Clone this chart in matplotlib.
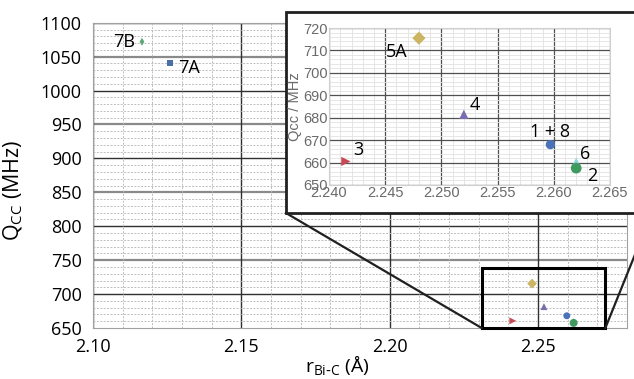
import matplotlib
matplotlib.use("Agg")
import matplotlib.pyplot as plt
from matplotlib.ticker import MultipleLocator
from matplotlib.patches import Rectangle
from matplotlib.lines import Line2D

plt.rcParams['font.family'] = ['Open Sans', 'DejaVu Sans']

# data: labels, r(Bi-C) in Angstrom, Qcc in MHz
labels = ['7B', '7A', '5A', '4', '3', '1 + 8', '6', '2']
r_bic = [2.1165, 2.1260, 2.2480, 2.2520, 2.2415, 2.2597, 2.2620, 2.2620]
q_cc = [1072, 1041, 715.5, 681.5, 660.5, 668.0, 660.5, 657.5]
markers = ['d', 's', 'D', '^', '>', 'o', '^', 'o']
colors = ['#5ea878', '#4a6fa8', '#cbb462', '#7a6cae', '#c84a55', '#4a72b8', '#8fd3e8', '#3e9a5e']
sizes = [30, 40, 45, 45, 45, 45, 30, 60]

# label offsets (points) and alignment
lab_off = [(-5, 0), (6, -4), (-8, -10), (4, 7), (5, 8), (0, 9), (3, 5), (8, -6)]
lab_ha = ['right', 'left', 'right', 'left', 'left', 'center', 'left', 'left']

zoom_box = (2.231, 650, 2.2727, 738)  # x0, y0, x1, y1

fig = plt.figure(figsize=(6.34, 3.79), dpi=100)
ax = fig.add_axes([0.1467, 0.1346, 0.8423, 0.8054])

ax.set_xlim(2.10, 2.28)
ax.set_ylim(650, 1100)
ax.xaxis.set_major_locator(MultipleLocator(0.05))
ax.xaxis.set_minor_locator(MultipleLocator(0.01))
ax.yaxis.set_major_locator(MultipleLocator(50))
ax.yaxis.set_minor_locator(MultipleLocator(10))
ax.grid(which='minor', color='#bdbdbd', lw=0.7, ls=(0, (2, 1.5)))
ax.grid(which='major', axis='x', color='#303030', lw=1.0)
for yv in range(700, 1101, 50):
    if yv % 100 == 0:
        ax.axhline(yv, color='#303030', lw=1.0, zorder=1)
    else:
        ax.axhline(yv, color='#8a8a8a', lw=1.6, zorder=1)
ax.tick_params(which='both', length=0, labelsize=13)
ax.tick_params(axis='y', pad=8)
ax.tick_params(axis='x', pad=7)
ax.set_xticks([2.10, 2.15, 2.20, 2.25])
ax.set_xticklabels(['2.10', '2.15', '2.20', '2.25'])
for s in ax.spines.values():
    s.set_color('#a0a0a0')
ax.set_xlabel(r'r$_{\mathregular{Bi\text{-}C}}$ (Å)', fontsize=14)
ax.xaxis.set_label_coords(0.457, -0.085)
ax.set_ylabel(r'Q$_{\mathregular{CC}}$ (MHz)', fontsize=15.5)
ax.yaxis.set_label_coords(-0.128, 0.45)

for i in range(len(labels)):
    ax.scatter(r_bic[i], q_cc[i], marker=markers[i], color=colors[i], s=sizes[i] * 0.55,
               edgecolors='none', zorder=3)
for i in range(2):
    ax.annotate(labels[i], (r_bic[i], q_cc[i]), xytext=lab_off[i], textcoords='offset points',
                ha=lab_ha[i], va='center', fontsize=13)

# zoom rectangle
x0, y0, x1, y1 = zoom_box
ax.add_patch(Rectangle((x0, y0), x1 - x0, y1 - y0, fill=False, ec='black', lw=2.2,
                       zorder=5, clip_on=False))

# inset frame box (figure coords) and connectors
bx0, by0, bx1, by1 = 0.451, 0.438, 1.04, 0.968
fig.patches.append(Rectangle((bx0, by0), bx1 - bx0, by1 - by0, transform=fig.transFigure,
                             fc='white', ec='#202020', lw=2.0, zorder=6))
p_bl = fig.transFigure.inverted().transform(ax.transData.transform((x0, y0)))
p_br = fig.transFigure.inverted().transform(ax.transData.transform((x1, y0)))
fig.lines.append(Line2D([bx0, p_bl[0]], [by0, p_bl[1]], transform=fig.transFigure,
                        color='#202020', lw=1.6, zorder=6))
fig.lines.append(Line2D([1.028, p_br[0]], [by0, p_br[1]], transform=fig.transFigure,
                        color='#202020', lw=1.6, zorder=6))

# inset axes
ins = fig.add_axes([0.519, 0.512, 0.443, 0.414], zorder=7)
ins.set_xlim(2.240, 2.265)
ins.set_ylim(650, 720)
ins.xaxis.set_major_locator(MultipleLocator(0.005))
ins.xaxis.set_minor_locator(MultipleLocator(0.001))
ins.yaxis.set_major_locator(MultipleLocator(10))
ins.yaxis.set_minor_locator(MultipleLocator(2))
ins.grid(which='minor', color='#e2e2e2', lw=0.6)
ins.grid(which='major', color='#505050', lw=0.9)
ins.set_axisbelow(True)
ins.set_xticks([2.240, 2.245, 2.250, 2.255, 2.260, 2.265])
ins.set_xticklabels(['2.240', '2.245', '2.250', '2.255', '2.260', '2.265'])
ins.tick_params(which='both', length=0, labelsize=10.5, labelcolor='#6a6a6a', pad=1,
                labelfontfamily='Liberation Sans')
for s in ins.spines.values():
    s.set_color('#d0d0d0')
ins.set_ylabel('Qcc / MHz', fontsize=10.5, color='#6a6a6a', family=['Liberation Sans'])
ins.yaxis.set_label_coords(-0.098, 0.5)

for i in range(2, len(labels)):
    ins.scatter(r_bic[i], q_cc[i], marker=markers[i], color=colors[i], s=sizes[i],
                edgecolors='none', zorder=3)
    ins.annotate(labels[i], (r_bic[i], q_cc[i]), xytext=lab_off[i], textcoords='offset points',
                 ha=lab_ha[i], va='center', fontsize=13)

fig.savefig('out.png', dpi=100)
